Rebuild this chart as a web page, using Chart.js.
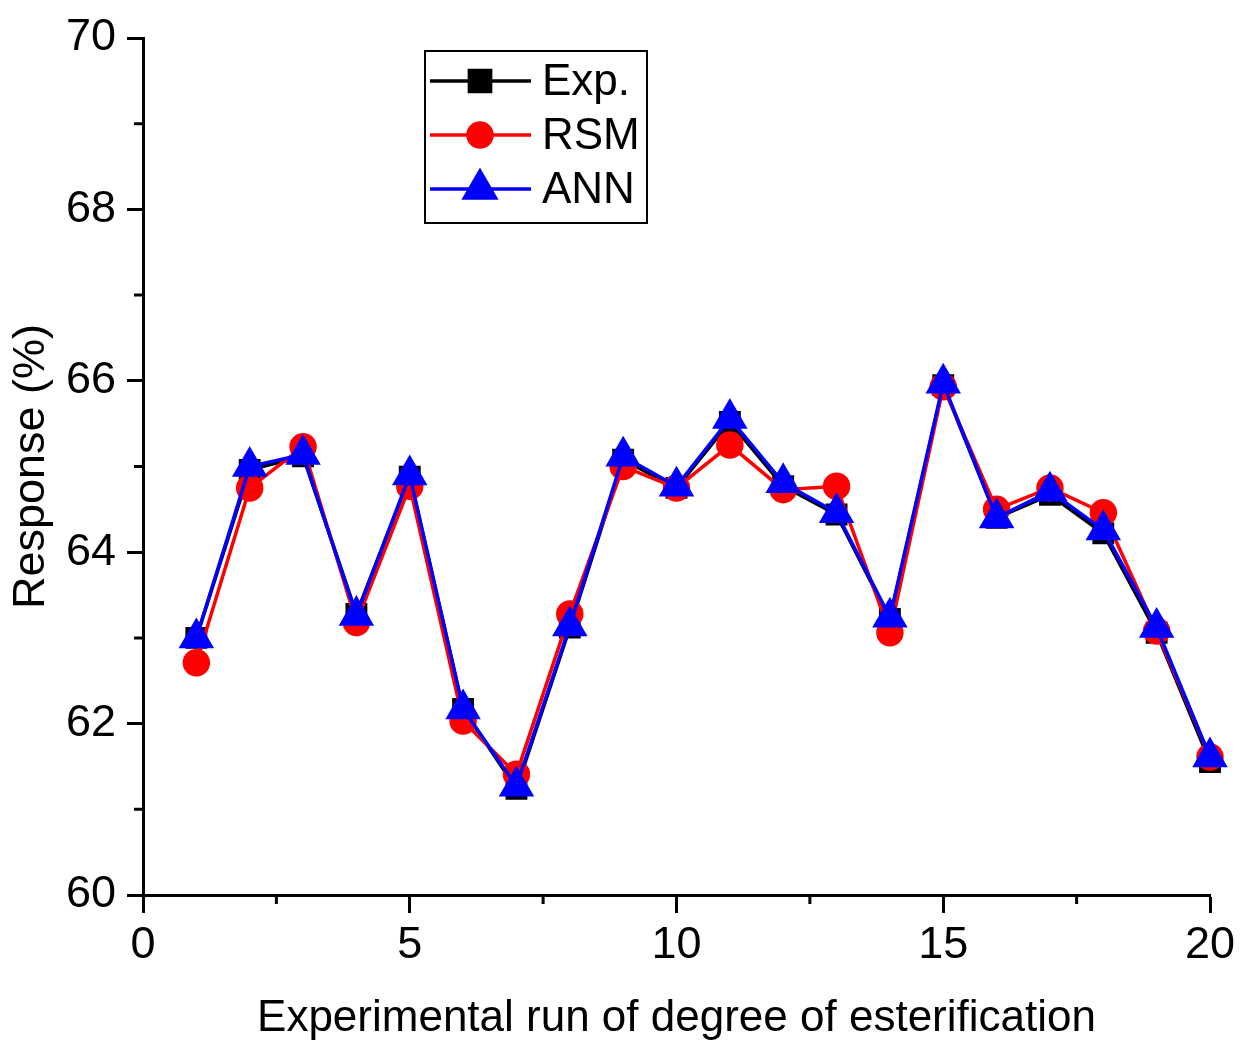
<!DOCTYPE html>
<html>
<head>
<meta charset="utf-8">
<title>Response per experimental run</title>
<script src="https://cdn.jsdelivr.net/npm/chart.js@4"></script>
<style>
    html, body { margin: 0; padding: 0; background: #fff; }
    #wrap { width: 1245px; height: 1041px; position: relative; }
</style>
</head>
<body>
<div id="wrap"><canvas id="chart"></canvas></div>
<script>
// run numbers (x categories)
const runs = [1, 2, 3, 4, 5, 6, 7, 8, 9, 10, 11, 12, 13, 14, 15, 16, 17, 18, 19, 20]

// degree of esterification response (%)
const expValues = [63.0, 64.96, 65.12, 63.28, 64.88, 62.17, 61.24, 63.12, 65.08, 64.75,
    65.52, 64.77, 64.44, 63.22, 65.95, 64.4, 64.67, 64.22, 63.06, 61.55]
const rsmValues = [62.71, 64.75, 65.23, 63.18, 64.77, 62.03, 61.41, 63.28, 65.0, 64.75,
    65.25, 64.73, 64.77, 63.06, 65.93, 64.5, 64.75, 64.46, 63.08, 61.61]
const annValues = [63.0, 65.0, 65.14, 63.26, 64.9, 62.17, 61.27, 63.14, 65.12, 64.77,
    65.56, 64.81, 64.46, 63.24, 65.97, 64.4, 64.71, 64.26, 63.12, 61.61]

const xMinorTicks = [2.5, 7.5, 12.5, 17.5]
const yMinorTicks = [61, 63, 65, 67, 69]

const FONT = "'Liberation Sans', Arial, sans-serif"

const toPoints = (values) => runs.map((r, i) => ({ x: r, y: values[i] }))

// minor tick marks (shorter than the major ones)
const minorTicks = {
    id: "minorTicks",
    afterDraw(chart) {
        const ctx = chart.ctx
        const xs = chart.scales.x
        const ys = chart.scales.y
        ctx.save()
        ctx.strokeStyle = "#000"
        ctx.lineWidth = 3
        ctx.beginPath()
        xMinorTicks.forEach((v) => {
            const px = xs.getPixelForValue(v)
            ctx.moveTo(px, xs.top)
            ctx.lineTo(px, xs.top + 9)
        })
        yMinorTicks.forEach((v) => {
            const py = ys.getPixelForValue(v)
            ctx.moveTo(ys.right, py)
            ctx.lineTo(ys.right - 9, py)
        })
        ctx.stroke()
        ctx.restore()
    },
}

// boxed legend inside the plot, line through marker like the original
const boxLegend = {
    id: "boxLegend",
    afterDraw(chart) {
        const ctx = chart.ctx
        const area = chart.chartArea
        const left = area.left + 282
        const top = area.top + 13
        const w = 222
        const h = 172
        ctx.save()
        ctx.fillStyle = "#fff"
        ctx.fillRect(left, top, w, h)
        ctx.strokeStyle = "#000"
        ctx.lineWidth = 2
        ctx.strokeRect(left, top, w, h)

        const legendOrder = [0, 1, 2]
        legendOrder.forEach((di, row) => {
            const ds = chart.data.datasets[di]
            const y = top + 30 + row * 54
            ctx.strokeStyle = ds.borderColor
            ctx.lineWidth = 3.5
            ctx.beginPath()
            ctx.moveTo(left + 5, y)
            ctx.lineTo(left + 106, y)
            ctx.stroke()
            ctx.fillStyle = ds.pointBackgroundColor
            ctx.strokeStyle = ds.borderColor
            Chart.helpers.drawPoint(ctx, {
                pointStyle: ds.pointStyle,
                radius: ds.legendRadius,
                rotation: 0,
                borderWidth: 1,
            }, left + 55, y)
            ctx.fillStyle = "#000"
            ctx.font = "44px " + FONT
            ctx.textBaseline = "middle"
            ctx.textAlign = "left"
            ctx.fillText(ds.label, left + 117, y + 2)
        })
        ctx.restore()
    },
}

const ctx = document.getElementById("chart").getContext("2d")

new Chart(ctx, {
    type: "line",
    data: {
        datasets: [
            {
                label: "Exp.",
                data: toPoints(expValues),
                borderColor: "#000000",
                backgroundColor: "#000000",
                pointBackgroundColor: "#000000",
                pointStyle: "rect",
                pointRadius: 13,
                legendRadius: 15,
                borderWidth: 3.5,
                order: 2,
            },
            {
                label: "RSM",
                data: toPoints(rsmValues),
                borderColor: "#ff0000",
                backgroundColor: "#ff0000",
                pointBackgroundColor: "#ff0000",
                pointStyle: "circle",
                pointRadius: 12,
                legendRadius: 12,
                borderWidth: 3.5,
                order: 1,
            },
            {
                label: "ANN",
                data: toPoints(annValues),
                borderColor: "#0000ff",
                backgroundColor: "#0000ff",
                pointBackgroundColor: "#0000ff",
                pointStyle: "triangle",
                pointRadius: 17,
                legendRadius: 18,
                borderWidth: 3.5,
                order: 0,
            },
        ],
    },
    options: {
        responsive: true,
        maintainAspectRatio: false,
        devicePixelRatio: 1,
        animation: false,
        clip: false,
        layout: {
            padding: { left: 0, right: 35, top: 35, bottom: 0 },
        },
        elements: {
            line: { tension: 0 },
            point: { borderWidth: 1, hoverRadius: 12 },
        },
        plugins: {
            legend: { display: false },
            tooltip: { enabled: false },
        },
        scales: {
            x: {
                type: "linear",
                min: 0,
                max: 20,
                ticks: {
                    stepSize: 5,
                    color: "#000",
                    padding: 6,
                    maxRotation: 0,
                    font: { family: FONT, size: 45 },
                },
                grid: {
                    drawOnChartArea: false,
                    drawTicks: true,
                    tickLength: 18,
                    tickWidth: 3,
                    tickColor: "#000",
                },
                border: { color: "#000", width: 3 },
                title: {
                    display: true,
                    text: "Experimental run of degree of esterification",
                    color: "#000",
                    padding: { top: 0, bottom: 0 },
                    font: { family: FONT, size: 44, lineHeight: 1 },
                },
                afterFit: (scale) => {
                    scale.height = 1041 - 895
                },
            },
            y: {
                min: 60,
                max: 70,
                ticks: {
                    stepSize: 2,
                    color: "#000",
                    padding: 11,
                    font: { family: FONT, size: 45 },
                },
                grid: {
                    drawOnChartArea: false,
                    drawTicks: true,
                    tickLength: 16,
                    tickWidth: 3,
                    tickColor: "#000",
                },
                border: { color: "#000", width: 3 },
                title: {
                    display: true,
                    text: "Response (%)",
                    color: "#000",
                    padding: { top: 9, bottom: 0 },
                    font: { family: FONT, size: 45, lineHeight: 1 },
                },
                afterFit: (scale) => {
                    scale.width = 143
                },
            },
        },
    },
    plugins: [minorTicks, boxLegend],
})
</script>
</body>
</html>
